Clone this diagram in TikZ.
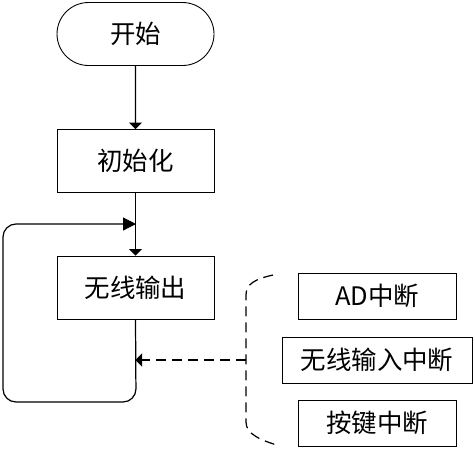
\documentclass[tikz,border=0pt]{standalone}
\usepackage{fontspec}
\setmainfont{Noto Sans CJK SC}
\usetikzlibrary{arrows.meta,shapes.misc}

\tikzset{
    box/.style={draw, line width=0.5pt, minimum width=3.14cm, minimum height=1.26cm, inner sep=0pt, font=\fontsize{14.5}{16}\selectfont},
    intbox/.style={box, minimum width=3.16cm, minimum height=0.92cm},
    flow/.style={line width=0.7pt, -{Triangle[length=0.13cm, width=0.26cm]}},
    dashflow/.style={flow, dash pattern=on 0.2cm off 0.12cm}
}

\begin{document}
\begin{tikzpicture}[x=0.02cm, y=-0.02cm]
    \useasboundingbox (0,0) rectangle (475,454);
    \node[box, rounded rectangle] (start) at (135.5,34) {开始};
    \node[box] (init) at (135.5,161) {初始化};
    \node[box] (wout) at (135.5,287.5) {无线输出};
    \node[intbox] (ad) at (377,296) {AD中断};
    \node[intbox, minimum width=3.8cm] (win) at (377,360) {无线输入中断};
    \node[intbox] (key) at (377,423) {按键中断};
    \coordinate (merge) at (136,224);
    \coordinate (brace) at (246,360);
    \draw[flow]
(start) --
(init);
    \draw[flow]
(init) --
(wout);
    \draw[line width=0.7pt, rounded corners=0.26cm, -{Triangle[length=0.26cm, width=0.26cm]}]
(wout.south) --
(136,402) --
(3,402) --
(3,224) --
(merge);
    \draw[dashflow]
(brace) --
(wout.south |- brace);
    \draw[line width=0.7pt, dash pattern=on 0.2cm off 0.12cm]
(273,275) .. controls (255,279) and (246,284) ..
(246,295) --
(246,422) .. controls (246,434) and (260,440) ..
(280,446);
\end{tikzpicture}
\end{document}
